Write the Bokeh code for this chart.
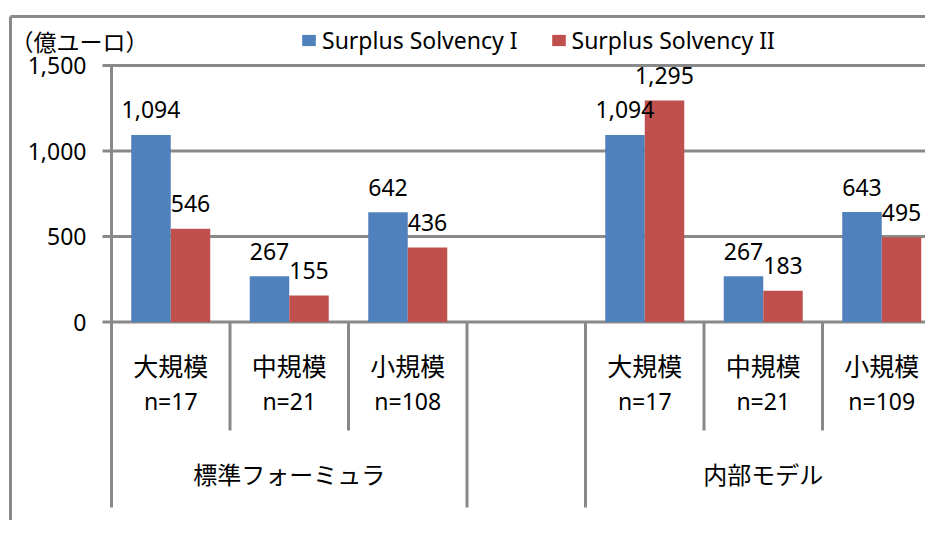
from bokeh.plotting import figure
from bokeh.models import Range1d, Legend, LegendItem
from bokeh.core.properties import value
from bokeh.embed import file_html
from bokeh.resources import INLINE

# ---------------- data ----------------
groups = ["標準フォーミュラ", "内部モデル"]
sizes = ["大規模", "中規模", "小規模"]
n_counts = ["n=17", "n=21", "n=108", "n=17", "n=21", "n=109"]
ss1 = [1094, 267, 642, 1094, 267, 643]
ss2 = [546, 155, 436, 1295, 183, 495]
series_names = ["Surplus Solvency I", "Surplus Solvency II"]
y_ticks = [0, 500, 1000, 1500]
y_tick_labels = ["0", "500", "1,000", "1,500"]
unit_label = "（億ユーロ）"

# ---------------- layout / style ----------------
W, H = 925, 520
SLOT_PX = 118.5          # pixel width of one category slot
UNIT_PX = 256.5 / 1500   # pixels per value unit
ORIGIN_X = 111.0         # px of the value axis
ORIGIN_Y = 321.5         # px of value 0
GRAY = "#898989"
BLUE = "#4F81BD"
RED = "#C0504D"
LATIN = "Noto Sans"
CJK = "Noto Sans CJK JP"
NUM_SIZE = "23px"
CAT_SIZE = "25px"
GROUP_SIZE = "24px"
UNIT_SIZE = "23px"


def dx(px):
    return (px - ORIGIN_X) / SLOT_PX


def dy(py):
    return (ORIGIN_Y - py) / UNIT_PX


# slot positions: 3 slots per group, one empty slot between groups
step = len(sizes) + 1
slot_idx = [g * step + s for g in range(len(groups)) for s in range(len(sizes))]
centers = [i + 0.5 for i in slot_idx]
group_centers = [g * step + len(sizes) / 2 for g in range(len(groups))]
inner_seps = [g * step + s for g in range(len(groups)) for s in range(1, len(sizes))]
outer_seps = sorted({g * step for g in range(len(groups))} |
                    {g * step + len(sizes) for g in range(len(groups))})

p = figure(width=W, height=H, x_range=Range1d(dx(0), dx(W)), y_range=Range1d(dy(H), dy(0)),
           x_axis_type=None, y_axis_type=None, output_backend="svg", toolbar_location=None,
           min_border=0, outline_line_color=None, background_fill_color="white",
           border_fill_color="white")
p.min_border_left = 0
p.min_border_right = 0
p.min_border_top = 0
p.min_border_bottom = 0

# chart-area border (top and left visible)
p.segment(x0=[dx(10), dx(10)], y0=[dy(16), dy(16)], x1=[dx(W), dx(10)], y1=[dy(16), dy(H)],
          line_color=GRAY, line_width=3)

# gridlines + tick marks
p.segment(x0=[dx(102)] * len(y_ticks), y0=y_ticks, x1=[dx(W)] * len(y_ticks), y1=y_ticks,
          line_color=GRAY, line_width=3)

# value axis line
p.segment(x0=[0], y0=[max(y_ticks)], x1=[0], y1=[0], line_color=GRAY, line_width=3)

# category separators
p.segment(x0=inner_seps, y0=[0] * len(inner_seps), x1=inner_seps, y1=[dy(430)] * len(inner_seps),
          line_color=GRAY, line_width=3)
p.segment(x0=outer_seps, y0=[0] * len(outer_seps), x1=outer_seps, y1=[dy(507)] * len(outer_seps),
          line_color=GRAY, line_width=3)

# bars
bw = 1 / 3
r1 = p.vbar(x=[c - bw / 2 for c in centers], top=ss1, width=bw, fill_color=BLUE, line_color=None)
r2 = p.vbar(x=[c + bw / 2 for c in centers], top=ss2, width=bw, fill_color=RED, line_color=None)

# data labels
p.text(x=[c - bw / 2 for c in centers], y=ss1, text=[f"{v:,}" for v in ss1], y_offset=-25,
       text_align="center", text_baseline="middle", text_font=value(LATIN),
       text_font_size=NUM_SIZE, text_color="black")
p.text(x=[c + bw / 2 for c in centers], y=ss2, text=[f"{v:,}" for v in ss2], y_offset=-25,
       text_align="center", text_baseline="middle", text_font=value(LATIN),
       text_font_size=NUM_SIZE, text_color="black")

# y tick labels
p.text(x=[dx(86)] * len(y_ticks), y=y_ticks, text=y_tick_labels, text_align="right",
       text_baseline="middle", text_font=value(LATIN), text_font_size=NUM_SIZE, text_color="black")

# category labels
p.text(x=centers, y=[0] * len(centers), text=sizes * len(groups), y_offset=43,
       text_align="center", text_baseline="middle", text_font=value(CJK),
       text_font_size=CAT_SIZE, text_color="black")
p.text(x=centers, y=[0] * len(centers), text=n_counts, y_offset=79,
       text_align="center", text_baseline="middle", text_font=value(LATIN),
       text_font_size=NUM_SIZE, text_color="black")
p.text(x=group_centers, y=[0] * len(group_centers), text=groups, y_offset=151,
       text_align="center", text_baseline="middle", text_font=value(CJK),
       text_font_size=GROUP_SIZE, text_color="black")

# unit label
p.text(x=[dx(10)], y=[dy(40)], text=[unit_label], text_align="left", text_baseline="middle",
       text_font=value(CJK), text_font_size=UNIT_SIZE, text_color="black")

# legend
legend = Legend(items=[LegendItem(label=series_names[0], renderers=[r1]),
                       LegendItem(label=series_names[1], renderers=[r2])],
                orientation="horizontal", location=(300, H - 56),
                glyph_width=17, glyph_height=14, label_standoff=5, spacing=32,
                padding=0, margin=0, border_line_color=None, background_fill_alpha=0,
                label_text_font=LATIN, label_text_font_size=NUM_SIZE, label_text_color="black")
p.add_layout(legend)

open("out.html", "w").write(file_html(p, INLINE))
